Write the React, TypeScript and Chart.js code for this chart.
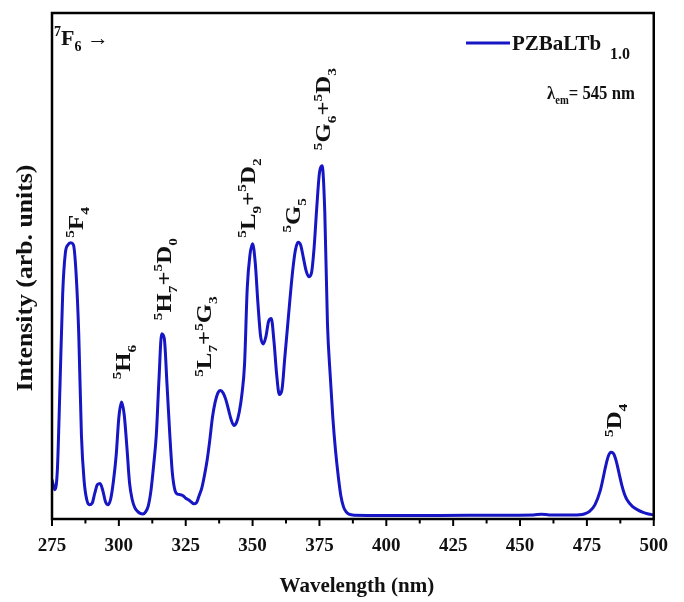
import React, { useEffect, useRef } from "react";
import { Chart, registerables } from "chart.js";

Chart.register(...registerables);

// ---- data ----
const wavelengths: number[] = [
  275, 276, 277, 278, 279, 280, 281, 282, 283, 284, 285, 286, 287, 288, 289, 290,
  291, 292, 293, 294, 295, 296, 297, 298, 299, 300, 301, 302, 303, 304, 305, 306,
  307, 308, 309, 310, 311, 312, 313, 314, 315, 316, 317, 318, 319, 320, 321, 322,
  323, 324, 325, 326, 327, 328, 329, 330, 331, 332, 333, 334, 335, 336, 337, 338,
  339, 340, 341, 342, 343, 344, 345, 346, 347, 348, 349, 350, 351, 352, 353, 354,
  355, 356, 357, 358, 359, 360, 361, 362, 363, 364, 365, 366, 367, 368, 369, 370,
  371, 372, 373, 374, 375, 376, 377, 378, 379, 380, 381, 382, 383, 384, 385, 386,
  388, 400, 420, 440, 455, 458, 461, 470, 474, 476, 478, 480, 481, 482, 483, 484,
  485, 486, 487, 488, 489, 490, 492, 494, 496, 498, 500,
];
const intensity: number[] = [
  7.2, 5.2, 9, 26, 44, 52, 53.6, 54, 53.6, 48, 36, 16, 7, 3.2, 2.2, 2.5,
  4.5, 6.2, 6.4, 5, 2.8, 2.2, 3.5, 7, 12, 19.5, 22.5, 20, 13.6, 6.5, 3.2, 1.6,
  0.9, 0.5, 0.4, 0.8, 2, 5, 10, 16, 27, 36, 35, 26, 16.5, 8.5, 5, 4.3,
  4.2, 4, 3.5, 3.2, 2.8, 2.4, 2.6, 4, 5.5, 8, 11, 15, 19.5, 22.5, 24.3, 24.8,
  24.3, 23, 21, 19, 17.9, 18.5, 20.5, 24, 30, 45, 51.5, 53.8, 50, 42, 35.5, 34,
  35.5, 38.5, 39, 34.5, 28, 24, 25, 31, 37, 43, 48.5, 52.5, 54.1, 53.5, 51, 48.5,
  47.3, 48, 53, 61, 67.8, 69.2, 60, 38, 28, 19.5, 13, 8, 4, 1.8, 0.8, 0.35,
  0.15, 0.1, 0.1, 0.15, 0.2, 0.35, 0.2, 0.2, 0.4, 0.9, 2.2, 5, 7.3, 9.8, 11.8, 12.6,
  12.3, 10.8, 8.5, 6.2, 4.4, 3.2, 1.9, 1.2, 0.7, 0.4, 0.2,
];

const xTickValues: number[] = [275, 300, 325, 350, 375, 400, 425, 450, 475, 500];
const seriesName = "PZBaLTb";
const seriesSub = "1.0";
const xTitle = "Wavelength (nm)";
const yTitle = "Intensity (arb. units)";

type Part = { t: string; k?: "sup" | "sub" };

// peak labels: text parts, anchored at wavelength / intensity where the label starts
const peakLabelParts: Part[][] = [
  [{ t: "5", k: "sup" }, { t: "F" }, { t: "4", k: "sub" }],
  [{ t: "5", k: "sup" }, { t: "H" }, { t: "6", k: "sub" }],
  [{ t: "5", k: "sup" }, { t: "H" }, { t: "7", k: "sub" }, { t: "+" }, { t: "5", k: "sup" }, { t: "D" }, { t: "0", k: "sub" }],
  [{ t: "5", k: "sup" }, { t: "L" }, { t: "7", k: "sub" }, { t: "+" }, { t: "5", k: "sup" }, { t: "G" }, { t: "3", k: "sub" }],
  [{ t: "5", k: "sup" }, { t: "L" }, { t: "9", k: "sub" }, { t: "+" }, { t: "5", k: "sup" }, { t: "D" }, { t: "2", k: "sub" }],
  [{ t: "5", k: "sup" }, { t: "G" }, { t: "5", k: "sub" }],
  [{ t: "5", k: "sup" }, { t: "G" }, { t: "6", k: "sub" }, { t: "+" }, { t: "5", k: "sup" }, { t: "D" }, { t: "3", k: "sub" }],
  [{ t: "5", k: "sup" }, { t: "D" }, { t: "4", k: "sub" }],
];
const peakLabelX: number[] = [284, 301.5, 317, 332, 348.3, 365, 376.5, 485.3];
const peakLabelY: number[] = [55, 27, 38.7, 27.5, 55, 56, 72.3, 15.6];

const cornerParts: Part[] = [{ t: "7", k: "sup" }, { t: "F" }, { t: "6", k: "sub" }, { t: " \u2192" }];
const lambdaParts: Part[] = [{ t: "\u03bb" }, { t: "em", k: "sub" }, { t: "= 545 nm" }];

const FONT = '"Liberation Serif", "Times New Roman", serif';
const LINE_COLOR = "#1616c4";
const TEXT_COLOR = "#111111";

function drawRich(ctx: CanvasRenderingContext2D, parts: Part[], x: number, y: number, size: number, align: "left" | "center" = "left") {
  const small = Math.round(size * 0.62);
  let w = 0;
  const ws: number[] = [];
  for (const p of parts) {
    ctx.font = `bold ${p.k ? small : size}px ${FONT}`;
    const m = ctx.measureText(p.t).width;
    ws.push(m);
    w += m;
  }
  let cx = align === "center" ? x - w / 2 : x;
  ctx.textBaseline = "alphabetic";
  ctx.textAlign = "left";
  parts.forEach((p, i) => {
    ctx.font = `bold ${p.k ? small : size}px ${FONT}`;
    const dy = p.k === "sup" ? -size * 0.42 : p.k === "sub" ? size * 0.28 : 0;
    ctx.fillText(p.t, cx, y + dy);
    cx += ws[i];
  });
}

const decorPlugin = {
  id: "decor",
  afterDraw(chart: any) {
    const ctx: CanvasRenderingContext2D = chart.ctx;
    const xs = chart.scales.x;
    const ys = chart.scales.y;
    const ca = chart.chartArea;
    ctx.save();
    ctx.fillStyle = TEXT_COLOR;
    ctx.strokeStyle = "#000";

    // frame
    ctx.lineWidth = 2.5;
    ctx.strokeRect(ca.left, ca.top, ca.right - ca.left, ca.bottom - ca.top);

    // ticks (major + minor)
    ctx.lineWidth = 2;
    for (let v = xs.min; v <= xs.max + 0.01; v += 12.5) {
      const px = xs.getPixelForValue(v);
      const major = xTickValues.includes(v);
      ctx.beginPath();
      ctx.moveTo(px, ca.bottom);
      ctx.lineTo(px, ca.bottom + (major ? 7 : 4.5));
      ctx.stroke();
    }

    // axis titles
    ctx.font = `bold 21px ${FONT}`;
    ctx.textAlign = "center";
    ctx.textBaseline = "alphabetic";
    ctx.fillText(xTitle, (ca.left + ca.right) / 2 + 4, 592);

    ctx.save();
    ctx.translate(32, (ca.top + ca.bottom) / 2 + 12);
    ctx.rotate(-Math.PI / 2);
    ctx.scale(1.12, 1);
    ctx.font = `bold 23px ${FONT}`;
    ctx.textAlign = "center";
    ctx.fillText(yTitle, 0, 0);
    ctx.restore();

    // peak labels (rotated)
    const size = 21;
    peakLabelParts.forEach((parts, i) => {
      const px = xs.getPixelForValue(peakLabelX[i]);
      const py = ys.getPixelForValue(peakLabelY[i]);
      ctx.save();
      ctx.translate(px + size * 0.33, py);
      ctx.rotate(-Math.PI / 2);
      ctx.scale(1.18, 1);
      drawRich(ctx, parts, 0, 0, size, "left");
      ctx.restore();
    });

    // corner text
    drawRich(ctx, cornerParts, ca.left + 2, 45, 22, "left");

    // legend
    ctx.strokeStyle = LINE_COLOR;
    ctx.lineWidth = 3;
    ctx.beginPath();
    ctx.moveTo(466, 43);
    ctx.lineTo(510, 43);
    ctx.stroke();
    ctx.fillStyle = TEXT_COLOR;
    ctx.font = `bold 21px ${FONT}`;
    ctx.textAlign = "left";
    ctx.fillText(seriesName, 512, 50);
    ctx.font = `bold 16px ${FONT}`;
    ctx.fillText(seriesSub, 610, 59);

    // lambda
    ctx.save();
    ctx.translate(547, 99);
    ctx.scale(0.88, 1);
    drawRich(ctx, lambdaParts, 0, 0, 19, "left");
    ctx.restore();

    ctx.restore();
  },
};

export default function App() {
  const ref = useRef<HTMLCanvasElement | null>(null);
  useEffect(() => {
    if (!ref.current) return;
    const chart = new Chart(ref.current, {
      type: "line",
      data: {
        datasets: [
          {
            label: seriesName,
            data: wavelengths.map((w, i) => ({ x: w, y: intensity[i] })),
            borderColor: LINE_COLOR,
            borderWidth: 3,
            pointRadius: 0,
            tension: 0.4,
            cubicInterpolationMode: "monotone",
            fill: false,
          },
        ],
      },
      options: {
        animation: false,
        responsive: false,
        devicePixelRatio: 1,
        layout: { padding: { top: 13, right: 27, left: 0, bottom: 0 } },
        plugins: { legend: { display: false }, tooltip: { enabled: false }, title: { display: false } },
        scales: {
          x: {
            type: "linear",
            min: 275,
            max: 500,
            grid: { display: false, drawTicks: false },
            border: { display: false },
            ticks: {
              stepSize: 25,
              padding: 16,
              color: TEXT_COLOR,
              font: { family: FONT, size: 19, weight: "bold" },
              maxRotation: 0,
              autoSkip: false,
            },
            afterFit: (s: any) => {
              s.height = 83;
            },
          },
          y: {
            min: -0.6,
            max: 99.4,
            grid: { display: false, drawTicks: false },
            border: { display: false },
            ticks: { display: false },
            afterFit: (s: any) => {
              s.width = 52;
            },
          },
        },
      },
      plugins: [decorPlugin],
    });
    return () => chart.destroy();
  }, []);
  return (
    <div style={{ position: "absolute", left: 0, top: 0, width: 684, height: 602, background: "#fff" }}>
      <canvas ref={ref} width={684} height={602} style={{ display: "block" }} />
    </div>
  );
}
